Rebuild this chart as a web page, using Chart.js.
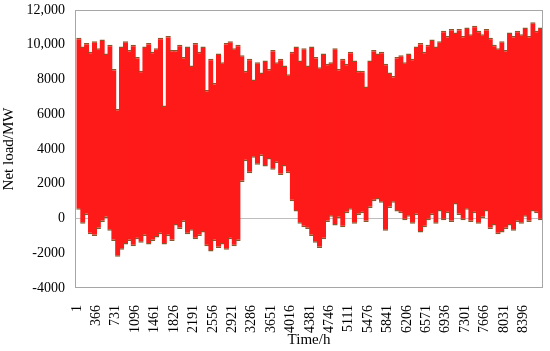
<!DOCTYPE html>
<html>
<head>
<meta charset="utf-8">
<script src="https://cdn.jsdelivr.net/npm/chart.js@4"></script>
<style>
  html, body { margin: 0; padding: 0; background: #fff; }
  #wrap { width: 550px; height: 351px; position: relative; }
</style>
</head>
<body>
<div id="wrap"><canvas id="mc"></canvas></div>
<script>
// ── Data (MW) ───────────────────────────────────────────────
// each bin spans 73 hours: highest and lowest net load in the bin
const binHours = 73;

const peakMW = [
  10400, 9900, 10100, 9600, 10200, 9800, 10300, 9500, 10000, 8600, 6300, 9900, 10200, 9700, 10000, 9300, 8500, 9900, 10100, 9600, 9800, 10400, 6500, 10500, 9700,
  9700, 10000, 9300, 9900, 8800, 10100, 9600, 9900, 7400, 9200, 7800, 9500, 9000, 10100, 10200, 9800, 10000,
  9400, 8500, 9200, 8000, 9000, 8400, 9100, 8600, 9700, 9000, 9200, 8800, 8300,
  9600, 9900, 9100, 9800, 8800, 9900, 9300, 8700, 9500, 8900, 9000, 9800, 8600, 9200, 8900, 9600, 9100, 8500,
  8500, 7600, 9100, 9700, 9500, 9600, 8900, 8400, 8200, 9300, 9400, 9000, 9500, 9200, 9900, 10100, 9600, 10000, 10300, 9900, 10200, 10800, 10500, 10900,
  10700, 10900, 10500, 11000, 10600, 11100, 10800, 10600, 10900, 10400, 10000, 9800, 10200, 9700, 10700, 10500, 10800, 10600, 11000, 10500, 11300, 10800, 11000
];

const troughMW = [
  500, -300, 200, -900, -1000, -600, -200, 0, -700, -1300, -2200, -1800, -1500, -1300, -1600, -1200, -1400, -1000, -1500, -1300, -1100, -900, -1500, -1000, -1300,
  -400, -600, -200, -900, -700, -1200, -1000, -800, -1600, -1900, -1300, -1700, -1500, -1800, -1200, -1600, -1300,
  2100, 3300, 2600, 3500, 3100, 3600, 3000, 3400, 2800, 3200, 2500, 3000, 2600,
  1000, 400, -300, -500, -600, -1000, -1400, -1700, -1200, -200, 100, -400, 0, -500, 300, 500, -300, 200,
  300, -200, 600, 1000, 1100, 900, -700, 600, 900, 400, 300, -100, 100, -300, 200, -800, -500, -100, 200, -300, 400, -100, 300, -200,
  800, 200, -100, 500, -200, 300, -300, 0, 400, -600, -400, -900, -800, -600, -400, -700, -200, -300, 100, -200, 400, 300, -100
];

const tickHours = [1, 366, 731, 1096, 1461, 1826, 2191, 2556, 2921, 3286, 3651, 4016,
  4381, 4746, 5111, 5476, 5841, 6206, 6571, 6936, 7301, 7666, 8031, 8396];

const yTicks = [-4000, -2000, 0, 2000, 4000, 6000, 8000, 10000, 12000];
const yLabels = ['-4000', '-2000', '0', '2000', '4000', '6000', '8000', '10,000', '12,000'];

// one floating bar per bin: [trough, peak]
const ranges = peakMW.map((p, i) => ({ x: i * binHours + binHours / 2, y: [troughMW[i], p] }));

// ── Plot frame ───────────────────────────────────────────────
const frame = {
  id: 'frame',
  afterDraw(chart) {
    const a = chart.chartArea, c = chart.ctx;
    c.save();
    c.strokeStyle = '#a6a6a6';
    c.lineWidth = 1;
    c.strokeRect(Math.round(a.left) + 0.5, Math.round(a.top) + 0.5,
      Math.round(a.right - a.left) - 1, Math.round(a.bottom - a.top) - 1);
    c.restore();
  }
};

const serif = "'Liberation Serif', 'Times New Roman', serif";

new Chart(document.getElementById('mc'), {
  type: 'bar',
  data: {
    datasets: [{
      data: ranges,
      backgroundColor: '#ff1a1a',
      borderColor: '#8a5528',
      borderWidth: { top: 1.5, bottom: 1.5, left: 0, right: 0 },
      borderSkipped: false,
      barPercentage: 1.35,
      categoryPercentage: 1
    }]
  },
  options: {
    responsive: true,
    maintainAspectRatio: false,
    animation: false,
    layout: { padding: { top: 10, right: 7, left: 0, bottom: 2 } },
    plugins: { legend: { display: false }, tooltip: { enabled: false } },
    scales: {
      x: {
        type: 'linear',
        offset: false,
        min: -37,
        max: 8767,
        afterBuildTicks: s => { s.ticks = tickHours.map(v => ({ value: v })); },
        afterFit: s => { s.height = 61; s.paddingLeft = 0; s.paddingRight = 0; },
        grid: { display: false },
        border: { display: false },
        ticks: {
          autoSkip: false,
          minRotation: 90,
          maxRotation: 90,
          padding: 9,
          color: '#000',
          font: { family: serif, size: 14 },
          callback: v => String(v)
        },
        title: {
          display: true,
          text: 'Time/h',
          color: '#000',
          font: { family: serif, size: 15 },
          padding: { top: 0, bottom: 0 }
        }
      },
      y: {
        min: -4000,
        max: 12000,
        afterBuildTicks: s => { s.ticks = yTicks.map(v => ({ value: v })); },
        afterFit: s => { s.width = 75; s.paddingTop = 0; s.paddingBottom = 0; },
        grid: {
          drawTicks: false,
          color: c => c.tick && c.tick.value === 0 ? '#bdbdbd' : 'rgba(0,0,0,0)'
        },
        border: { display: false },
        ticks: {
          padding: 10,
          color: '#000',
          font: { family: serif, size: 14 },
          callback: v => yLabels[yTicks.indexOf(v)]
        },
        title: {
          display: true,
          text: 'Net load/MW',
          color: '#000',
          font: { family: serif, size: 15 },
          padding: { top: 0, bottom: 2 }
        }
      }
    }
  },
  plugins: [frame]
});
</script>
</body>
</html>
